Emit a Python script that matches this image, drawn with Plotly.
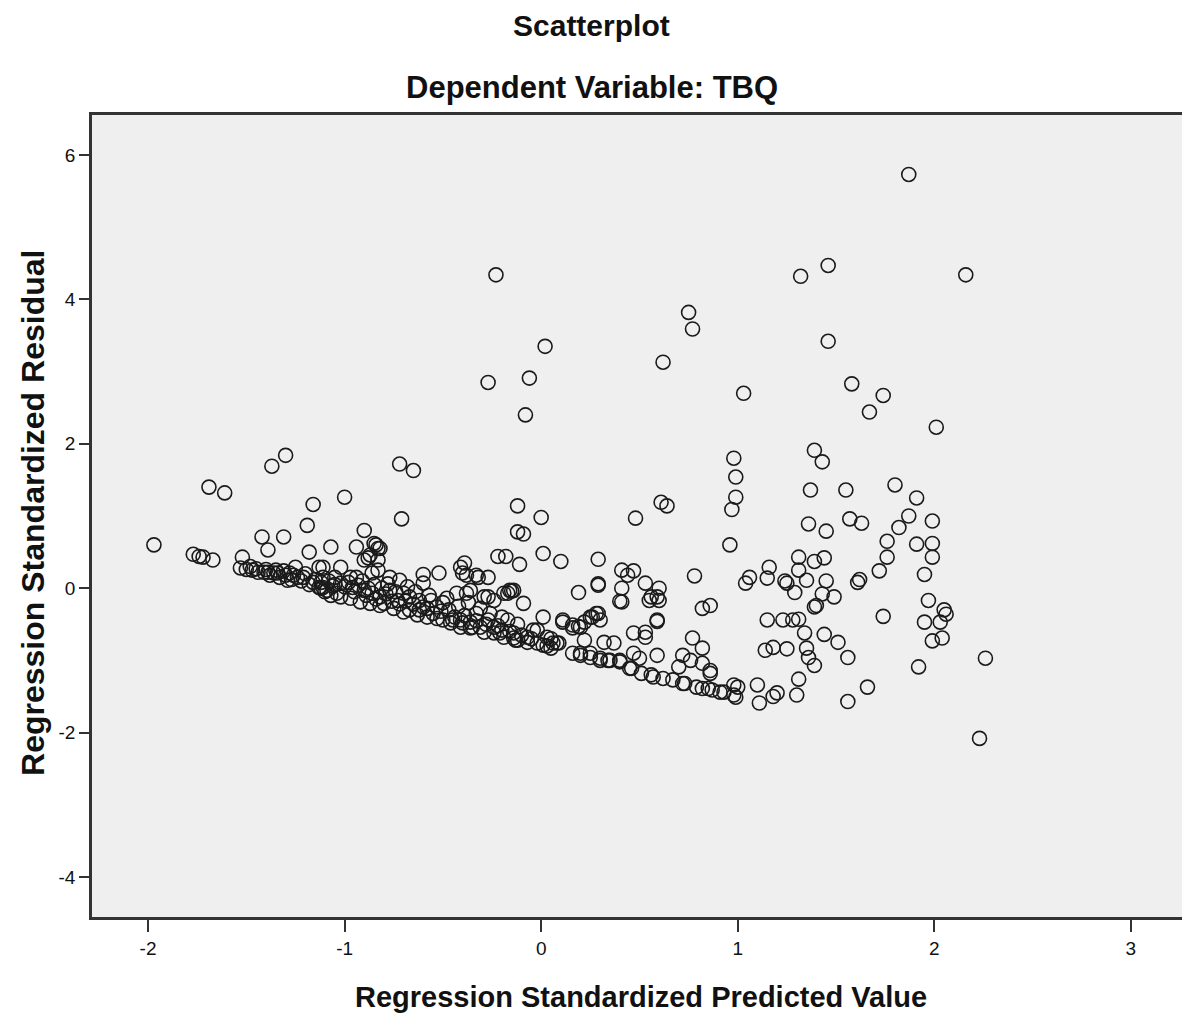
import plotly.graph_objects as go

# Regression standardized predicted value (x) and standardized residual (y)
pred_upper = [1.87, -0.23, 1.32, 1.46, 2.16, 0.75, 0.77, 1.46, 0.02, 0.62, -0.27, -0.06, 1.03, 1.58, 1.74,
              1.67, -0.08, 2.01, -1.30, -1.37, -0.72, -0.65, 0.98, 1.39, 1.43, 0.99, -1.69, -1.61, 1.37, 1.80,
              1.55, 0.99, -1.00, -1.16, -0.12, 0.61, 0.64, 1.91, 0.97, 0.48, 0.00, -0.71, -1.19, 1.36, 1.57,
              1.63, 1.82, 1.87, 1.99, 1.45, -0.12, -0.09, -0.90, -1.42, -1.31]
resid_upper = [5.73, 4.34, 4.32, 4.47, 4.34, 3.82, 3.59, 3.42, 3.35, 3.13, 2.85, 2.91, 2.70, 2.83, 2.67,
               2.44, 2.40, 2.23, 1.84, 1.69, 1.72, 1.63, 1.80, 1.91, 1.75, 1.54, 1.40, 1.32, 1.36, 1.43,
               1.36, 1.26, 1.26, 1.16, 1.14, 1.19, 1.14, 1.25, 1.09, 0.97, 0.98, 0.96, 0.87, 0.89, 0.96,
               0.90, 0.84, 1.00, 0.93, 0.79, 0.78, 0.75, 0.80, 0.71, 0.71]

pred_right = [0.96, 1.91, 1.99, 1.31, 1.39, 1.44, 1.76, 1.72, 1.99, 1.95, 1.76, 0.78, 1.16, 1.15, 1.06,
              1.04, 1.24, 1.25, 1.31, 1.35, 1.29, 1.45, 1.43, 1.49, 1.39, 1.40, 1.61, 1.62, 1.97, 1.74,
              1.95, 2.03, 2.05, 2.06, 2.04, 1.99, 0.82, 0.86, 0.59, 1.15, 1.23, 1.28, 1.31, 1.34, 1.44,
              1.51, 1.56, 1.14, 1.18, 1.25, 1.35, 1.36, 1.39, 0.77, 0.82, 0.82, 0.59, 0.72, 0.76, 0.70,
              0.86, 1.31, 1.30, 1.66, 1.56, 1.92, 2.26, 2.23, 1.10, 1.11, 1.18, 1.20, 0.60, 0.60]
resid_right = [0.60, 0.61, 0.62, 0.43, 0.37, 0.42, 0.43, 0.24, 0.43, 0.19, 0.65, 0.17, 0.29, 0.14, 0.15,
               0.07, 0.10, 0.07, 0.25, 0.11, -0.06, 0.10, -0.08, -0.12, -0.26, -0.24, 0.08, 0.12, -0.17, -0.39,
               -0.47, -0.47, -0.30, -0.36, -0.69, -0.73, -0.28, -0.24, -0.46, -0.44, -0.44, -0.44, -0.43, -0.62, -0.64,
               -0.75, -0.96, -0.86, -0.82, -0.84, -0.83, -0.96, -1.07, -0.69, -0.83, -1.04, -0.93, -0.93, -1.00, -1.09,
               -1.18, -1.26, -1.48, -1.37, -1.57, -1.09, -0.97, -2.08, -1.34, -1.59, -1.50, -1.45, 0.00, -0.17]

pred_mid = [-0.22, -0.18, -0.11, 0.01, 0.10, 0.29, 0.29, 0.19, 0.41, 0.44, 0.47, 0.41, 0.41, 0.53, 0.56,
            0.47, 0.53, 0.53, 0.32, 0.37, 0.29, 0.26, 0.22, 0.19, 0.11, 0.16, 0.01, -0.09, -0.15, -0.17,
            -0.52, -0.60, -0.60, -0.39, -0.41, -0.38, -0.32, -0.27, -0.27, -0.82, 0.16, 0.20, 0.25, 0.30, 0.35,
            0.40, 0.46, 0.51, 0.57, -0.02, 0.03, 0.06, 0.08, -0.02, -0.07, -0.14, -0.12, -0.21, -0.31, -0.36,
            -0.41, 0.29, 0.40, 0.59, 0.55, 0.11, 0.16, 0.20, 0.25, 0.28, 0.30, 0.59, 0.22, 0.86, 0.47, 0.50]
resid_mid = [0.44, 0.44, 0.33, 0.48, 0.37, 0.40, 0.06, -0.06, 0.25, 0.18, 0.24, 0.00, -0.19, 0.07, -0.12,
             -0.62, -0.61, -0.68, -0.75, -0.76, -0.35, -0.40, -0.47, -0.53, -0.47, -0.55, -0.40, -0.21, -0.04, -0.07,
             0.21, 0.19, 0.07, 0.35, 0.29, 0.18, 0.15, 0.15, -0.12, 0.55, -0.90, -0.90, -0.90, -1.00, -1.00,
             -1.00, -1.11, -1.18, -1.23, -0.76, -0.68, -0.76, -0.76, -0.58, -0.68, -0.62, -0.72, -0.62, -0.54, -0.47,
             -0.44, 0.04, -0.18, -0.12, -0.17, -0.44, -0.51, -0.54, -0.40, -0.35, -0.44, -0.44, -0.72, -1.14, -0.90, -0.97]

pred_edge = [-0.14, -0.07, 0.01, 0.05, 0.09, 0.20, 0.25, 0.30, 0.34, 0.40, 0.45, 0.56, 0.62, 0.67, 0.72,
             0.73, 0.79, 0.82, 0.85, 0.87, 0.91, 0.93, 0.98, 0.98, 1.00, 0.99]
resid_edge = [-0.69, -0.75, -0.79, -0.83, -0.76, -0.93, -0.96, -0.97, -1.00, -1.02, -1.11, -1.20, -1.25, -1.27, -1.32,
              -1.32, -1.37, -1.39, -1.39, -1.41, -1.44, -1.44, -1.48, -1.34, -1.37, -1.51]

pred_left = [-1.97, -1.77, -1.74, -1.72, -1.67, -1.52, -1.39, -1.18, -1.13, -1.07, -0.94, -0.85, -0.83, -0.88, -1.02,
             -1.12, -0.77, -1.53, -1.50, -1.47, -1.44, -1.41, -1.39, -1.36, -1.34, -1.30, -1.28, -1.25, -1.29, -1.24,
             -1.21, -1.16, -1.13, -1.11, -1.09, -0.84, -0.87, -0.90, -0.83, -0.83, -0.86, -1.11, -1.05, -0.97, -0.94,
             -1.02, -0.96, -0.90, -0.86, -0.82, -0.72, -0.77, -0.70, -0.67, -0.73, -0.80, -0.67, -0.60, -0.62, -0.56,
             -0.53, -0.48, -0.43, -0.38, -0.40, -0.33, -0.36, -0.29, -0.24, -0.14, -0.50, -0.45, -0.40, -0.33, -0.35,
             -0.27, -0.24, -0.20, -0.17, -1.11, -1.07, -1.02, -0.97, -0.92, -0.87, -0.82, -0.75, -0.70, -0.63, -0.58,
             -0.53, -0.46, -0.41, -0.36, -0.29, -0.24, -0.19, -0.13, -0.16, -0.19]
resid_left = [0.60, 0.47, 0.44, 0.43, 0.39, 0.43, 0.53, 0.50, 0.29, 0.57, 0.57, 0.62, 0.55, 0.42, 0.29,
              0.00, 0.15, 0.28, 0.26, 0.25, 0.22, 0.22, 0.22, 0.21, 0.21, 0.18, 0.21, 0.29, 0.11, 0.15,
              0.15, 0.08, 0.01, 0.15, -0.03, 0.60, 0.46, 0.39, 0.39, 0.25, 0.21, 0.29, 0.15, 0.15, 0.15,
              0.07, 0.01, -0.03, -0.07, -0.12, 0.11, -0.03, -0.07, -0.12, -0.17, -0.21, -0.30, -0.26, -0.17, -0.17,
              -0.26, -0.14, -0.07, -0.07, 0.21, 0.18, -0.03, -0.12, -0.17, -0.03, -0.44, -0.44, -0.48, -0.35, -0.54,
              -0.44, -0.54, -0.58, -0.44, 0.01, -0.10, -0.12, -0.14, -0.19, -0.21, -0.24, -0.28, -0.33, -0.37, -0.40,
              -0.42, -0.48, -0.54, -0.55, -0.61, -0.62, -0.68, -0.72, -0.03, -0.07]

pred_dense = [-1.05, -1.00, -0.98, -0.95, -0.93, -0.91, -0.89, -0.88, -0.85, -0.84, -0.81, -0.79, -0.78, -0.76, -0.74,
              -0.72, -0.69, -0.68, -0.65, -0.64, -0.62, -0.58, -0.57, -0.55, -0.51, -0.50, -0.47, -0.44, -0.42, -0.39,
              -0.37, -0.33, -0.31, -0.28, -0.26, -0.22, -0.20, -0.16, -0.12, -0.10, -0.05, -0.04, 0.03, 0.05,
              -1.48, -1.45, -1.40, -1.38, -1.35, -1.33, -1.31, -1.27, -1.26, -1.22, -1.20, -1.18, -1.15, -1.12, -1.10,
              -1.08, -1.06, -1.04]
resid_dense = [0.05, 0.02, 0.08, -0.05, 0.04, 0.10, -0.10, 0.00, 0.05, -0.15, 0.00, -0.08, 0.06, -0.18, -0.05,
               -0.22, -0.18, 0.02, -0.22, -0.05, -0.30, -0.28, -0.10, -0.35, -0.32, -0.20, -0.30, -0.40, -0.25, -0.38,
               -0.20, -0.45, -0.28, -0.50, -0.35, -0.52, -0.40, -0.60, -0.50, -0.65, -0.70, -0.58, -0.80, -0.70,
               0.30, 0.27, 0.26, 0.18, 0.25, 0.15, 0.24, 0.12, 0.18, 0.10, 0.20, 0.05, 0.12, 0.08, -0.05,
               0.10, 0.03, -0.07]

pred = pred_upper + pred_right + pred_mid + pred_edge + pred_left + pred_dense
resid = resid_upper + resid_right + resid_mid + resid_edge + resid_left + resid_dense

x_ticks = [-2, -1, 0, 1, 2, 3]
y_ticks = [-4, -2, 0, 2, 4, 6]

title_main = "Scatterplot"
title_sub = "Dependent Variable: TBQ"
x_title = "Regression Standardized Predicted Value"
y_title = "Regression Standardized Residual"

FONT = "Liberation Sans, Arial, sans-serif"
AX = "#333333"

fig = go.Figure()
fig.add_trace(go.Scatter(
    x=pred, y=resid, mode="markers",
    marker=dict(symbol="circle-open", size=14, color="#1a1a1a", line=dict(width=1.6)),
    hoverinfo="x+y", showlegend=False,
))

fig.update_layout(
    width=1182, height=1018,
    margin=dict(l=92, r=0, t=115, b=101),
    paper_bgcolor="white", plot_bgcolor="#efefef",
    font=dict(family=FONT, color="#111"),
    xaxis=dict(range=[-2.285, 3.26], tickvals=x_ticks, ticktext=[str(v) for v in x_ticks],
               showgrid=False, zeroline=False, showline=True, linecolor=AX, linewidth=2.5,
               mirror=True, ticks="outside", ticklen=12, tickwidth=2, tickcolor=AX,
               tickfont=dict(family=FONT, size=19, color="#111")),
    yaxis=dict(range=[-4.554, 6.554], tickvals=y_ticks, ticktext=[str(v) for v in y_ticks],
               showgrid=False, zeroline=False, showline=True, linecolor=AX, linewidth=2.5,
               ticks="outside", ticklen=10, tickwidth=2, tickcolor=AX,
               tickfont=dict(family=FONT, size=19, color="#111")),
    annotations=[
        dict(text="<b>%s</b>" % title_main, xref="paper", yref="paper", x=0.4587, y=1.112,
             xanchor="center", yanchor="middle", showarrow=False, font=dict(family=FONT, size=30, color="#111")),
        dict(text="<b>%s</b>" % title_sub, xref="paper", yref="paper", x=0.4587, y=1.034,
             xanchor="center", yanchor="middle", showarrow=False, font=dict(family=FONT, size=31, color="#111")),
        dict(text="<b>%s</b>" % x_title, xref="paper", yref="paper", x=0.504, y=-0.0998,
             xanchor="center", yanchor="middle", showarrow=False, font=dict(family=FONT, size=29, color="#111")),
        dict(text="<b>%s</b>" % y_title, xref="paper", yref="paper", x=-0.054, y=0.504,
             xanchor="center", yanchor="middle", textangle=-90, showarrow=False,
             font=dict(family=FONT, size=32, color="#111")),
    ],
)

fig.write_html("out.html")
